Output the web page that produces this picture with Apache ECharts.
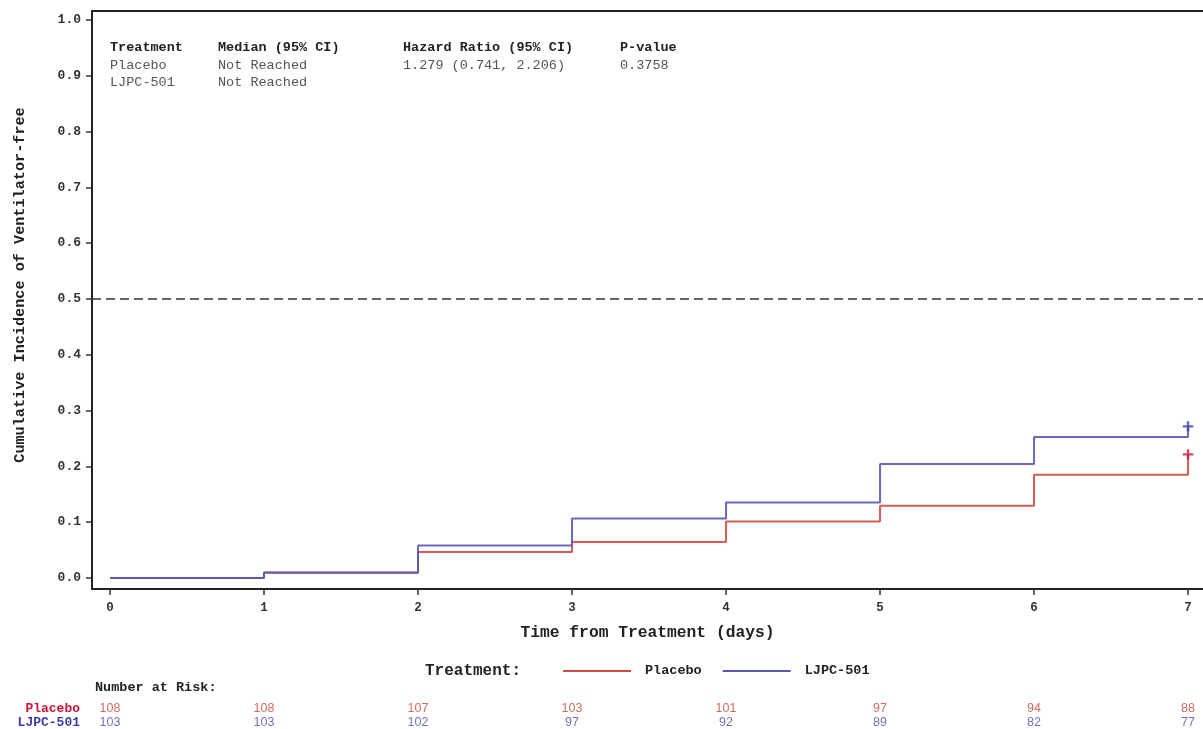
<!DOCTYPE html>
<html>
<head>
<meta charset="utf-8">
<script src="https://cdn.jsdelivr.net/npm/echarts@6/dist/echarts.min.js"></script>
<style>
html,body{margin:0;padding:0;background:#fff;}
#chart{width:1203px;height:729px;}
</style>
</head>
<body>
<div id="chart"></div>
<script>
// ---- data ----
const days = [0, 1, 2, 3, 4, 5, 6, 7];
const placeboCI = [0, 0.0093, 0.0466, 0.0645, 0.1014, 0.1296, 0.185, 0.2215];
const ljpcCI = [0, 0.0097, 0.0584, 0.1068, 0.1355, 0.2043, 0.2527, 0.2717];
const censorDay = 7;
const placeboRisk = [108, 108, 107, 103, 101, 97, 94, 88];
const ljpcRisk = [103, 103, 102, 97, 92, 89, 82, 77];
const yTicks = [0, 0.1, 0.2, 0.3, 0.4, 0.5, 0.6, 0.7, 0.8, 0.9, 1.0];
const xTicks = [0, 1, 2, 3, 4, 5, 6, 7];
const groups = ['Placebo', 'LJPC-501'];
const refLine = 0.5;
const statHeaders = ['Treatment', 'Median (95% CI)', 'Hazard Ratio (95% CI)', 'P-value'];
const statRow1 = ['Placebo', 'Not Reached', '1.279 (0.741, 2.206)', '0.3758'];
const statRow2 = ['LJPC-501', 'Not Reached', '', ''];

// ---- styles ----
const MONO = '"Liberation Mono", "Courier New", monospace';
const SANS = '"Liberation Sans", Arial, sans-serif';
const RED = '#CF4A43', BLUE = '#5858B4';
const RED_M = '#C4163A', BLUE_M = '#3C3CA6';
const RED_T = '#C8453C', BLUE_T = '#4E4EAA';

const chart = echarts.init(document.getElementById('chart'), null, {renderer: 'canvas'});

const plusPath = 'path://M4,0H6.4V4H10.4V6.4H6.4V10.4H4V6.4H0V4H4Z';

const colX = [110, 218, 403, 620];
const graphics = [];
function addText(x, y, text, opts) {
  graphics.push({
    type: 'text', x: x, y: y,
    style: Object.assign({text: text, font: 'bold 13.5px ' + MONO, fill: '#222', textAlign: 'left', textVerticalAlign: 'middle'}, opts || {})
  });
}
statHeaders.forEach((t, i) => addText(colX[i], 48, t));
statRow1.forEach((t, i) => { if (t) addText(colX[i], 65.5, t, {font: '13.5px ' + MONO, fill: '#555'}); });
statRow2.forEach((t, i) => { if (t) addText(colX[i], 82.5, t, {font: '13.5px ' + MONO, fill: '#555'}); });
addText(425, 671, 'Treatment:', {font: 'bold 16px ' + MONO});
addText(95, 688, 'Number at Risk:', {font: 'bold 13.5px ' + MONO});
graphics.push({
  type: 'text', x: 20, y: 285, rotation: Math.PI / 2,
  style: {text: 'Cumulative Incidence of Ventilator-free', font: 'bold 15.2px ' + MONO, fill: '#222', textAlign: 'center', textVerticalAlign: 'middle'}
});

const option = {
  animation: false,
  backgroundColor: '#fff',
  grid: [
    {left: 92, top: 11, right: 0, bottom: 140},
    {left: 92, top: 702, right: 0, height: 28}
  ],
  xAxis: [
    {
      type: 'value', gridIndex: 0, min: -0.117, max: 7.097,
      name: 'Time from Treatment (days)', nameLocation: 'middle', nameGap: 36,
      nameTextStyle: {fontFamily: MONO, fontWeight: 'bold', fontSize: 16.3, color: '#222'},
      axisLine: {show: true, onZero: false, lineStyle: {color: '#222', width: 2}},
      axisTick: {show: true, customValues: xTicks, length: 6, lineStyle: {color: '#333', width: 1.5}},
      axisLabel: {customValues: xTicks, margin: 12, fontFamily: MONO, fontWeight: 'bold', fontSize: 12.5, color: '#333'},
      splitLine: {show: false}
    },
    {
      type: 'value', gridIndex: 0, position: 'top', min: -0.117, max: 7.097,
      axisLine: {show: true, onZero: false, lineStyle: {color: '#222', width: 2}},
      axisTick: {show: false}, axisLabel: {show: false}, splitLine: {show: false}
    },
    {
      type: 'value', gridIndex: 1, min: -0.117, max: 7.097, show: false
    }
  ],
  yAxis: [
    {
      type: 'value', gridIndex: 0, min: -0.0197, max: 1.0161,
      axisLine: {show: true, onZero: false, lineStyle: {color: '#222', width: 2}},
      axisTick: {show: true, customValues: yTicks, length: 6, lineStyle: {color: '#333', width: 1.5}},
      axisLabel: {customValues: yTicks, margin: 11, fontFamily: MONO, fontWeight: 'bold', fontSize: 13, color: '#333',
        formatter: v => v.toFixed(1)},
      splitLine: {show: false}
    },
    {
      type: 'category', gridIndex: 1, data: groups, inverse: true,
      axisLine: {show: false}, axisTick: {show: false}, splitLine: {show: false},
      axisLabel: {
        interval: 0, hideOverlap: false,
        margin: 12, fontFamily: MONO, fontWeight: 'bold', fontSize: 13,
        formatter: v => v === 'Placebo' ? '{r|' + v + '}' : '{b|' + v + '}',
        rich: {
          r: {color: RED_M, fontFamily: MONO, fontWeight: 'bold', fontSize: 13},
          b: {color: BLUE_M, fontFamily: MONO, fontWeight: 'bold', fontSize: 13}
        }
      }
    }
  ],
  legend: {
    data: groups, left: 563, top: 664, padding: 0, icon: 'rect', itemWidth: 68, itemHeight: 2, itemGap: 21,
    textStyle: {fontFamily: MONO, fontWeight: 'bold', fontSize: 13.5, color: '#222', padding: [0, 0, 0, 9]}
  },
  graphic: graphics,
  series: [
    {
      name: 'LJPC-501', type: 'line', xAxisIndex: 0, yAxisIndex: 0, step: 'end', symbol: 'none',
      color: BLUE, lineStyle: {color: BLUE, width: 2, opacity: 0.9},
      data: days.map((d, i) => [d, ljpcCI[i]]), z: 3
    },
    {
      name: 'Placebo', type: 'line', xAxisIndex: 0, yAxisIndex: 0, step: 'end', symbol: 'none',
      color: RED, lineStyle: {color: RED, width: 2, opacity: 0.9},
      data: days.map((d, i) => [d, placeboCI[i]]), z: 2,
      markLine: {
        silent: true, symbol: 'none', label: {show: false},
        lineStyle: {color: '#333', type: [9, 5], width: 1.5},
        data: [{yAxis: refLine}]
      }
    },
    {
      name: 'censorP', type: 'scatter', xAxisIndex: 0, yAxisIndex: 0,
      symbol: plusPath, symbolSize: 10.4, itemStyle: {color: RED_M},
      data: [[censorDay, placeboCI[placeboCI.length - 1]]], z: 5
    },
    {
      name: 'censorL', type: 'scatter', xAxisIndex: 0, yAxisIndex: 0,
      symbol: plusPath, symbolSize: 10.4, itemStyle: {color: BLUE_M},
      data: [[censorDay, ljpcCI[ljpcCI.length - 1]]], z: 5
    },
    {
      name: 'riskP', type: 'scatter', xAxisIndex: 2, yAxisIndex: 1, symbolSize: 0,
      label: {show: true, position: 'inside', formatter: p => String(p.value[2]), fontFamily: SANS, fontSize: 12.5, color: RED_T},
      data: days.map((d, i) => [d, 'Placebo', placeboRisk[i]])
    },
    {
      name: 'riskL', type: 'scatter', xAxisIndex: 2, yAxisIndex: 1, symbolSize: 0,
      label: {show: true, position: 'inside', formatter: p => String(p.value[2]), fontFamily: SANS, fontSize: 12.5, color: BLUE_T},
      data: days.map((d, i) => [d, 'LJPC-501', ljpcRisk[i]])
    }
  ]
};
chart.setOption(option);
</script>
</body>
</html>
